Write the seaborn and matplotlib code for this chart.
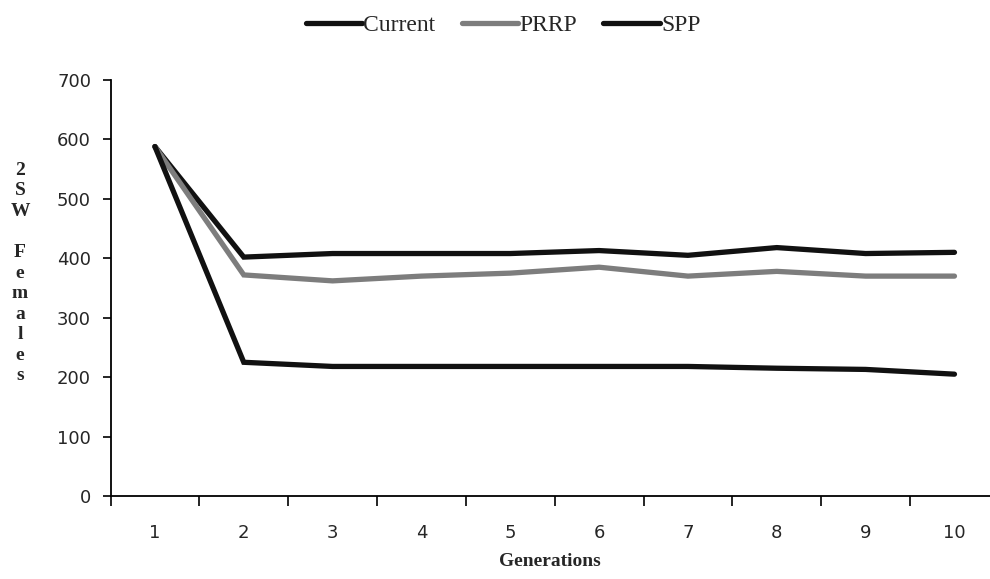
import pandas as pd
import matplotlib
matplotlib.use("Agg")
import matplotlib.pyplot as plt
import seaborn as sns

# valores
generaciones = [1, 2, 3, 4, 5, 6, 7, 8, 9, 10]
current = [588, 402, 408, 408, 408, 413, 405, 418, 408, 410]
prrp = [588, 372, 362, 370, 375, 385, 370, 378, 370, 370]
spp = [588, 225, 218, 218, 218, 218, 218, 215, 213, 205]
series = ["Current", "PRRP", "SPP"]
colores = {"Current": "#111111", "PRRP": "#7d7d7d", "SPP": "#111111"}

df = pd.DataFrame({"gen": generaciones, "Current": current, "PRRP": prrp, "SPP": spp})
df = df.melt(id_vars="gen", var_name="serie", value_name="valor")

sns.set_style("white")
fig = plt.figure(figsize=(9.9, 5.79), dpi=100)
ax = fig.add_axes([110.5 / 990, 1 - 496 / 579, (990 - 110.5) / 990, 416 / 579])

sns.lineplot(data=df, x="gen", y="valor", hue="serie", hue_order=series,
             palette=colores, linewidth=3.8, ax=ax, legend=False,
             solid_capstyle="round", solid_joinstyle="miter")

ax.set_xlim(0.5, 10.4)
ax.set_ylim(0, 700)
ax.set_yticks(range(0, 701, 100))
ax.set_xticks(generaciones)
ax.set_xticks([x + 0.5 for x in range(0, 10)], minor=True)
ax.tick_params(axis="x", which="major", bottom=False, length=0, pad=20, labelsize=13)
ax.tick_params(axis="x", which="minor", bottom=True, length=7, width=1.2, direction="out", color="black")
ax.tick_params(axis="y", left=True, length=6, width=1.2, direction="out", color="black", labelsize=13, pad=8)
ax.set_xlabel("Generations", fontfamily="Liberation Serif", fontweight="bold", fontsize=14, labelpad=8)
ax.set_ylabel("")
for s in ["top", "right"]:
    ax.spines[s].set_visible(False)
for s in ["left", "bottom"]:
    ax.spines[s].set_color("black")
    ax.spines[s].set_linewidth(1.3)

# etiqueta vertical letra por letra
fig.text(20 / 990, 1 - 273 / 579, "\n".join("2SW Females"), ha="center", va="center",
         fontfamily="Liberation Serif", fontweight="bold", fontsize=14, linespacing=1.27)

# leyenda arriba
handles = [plt.Line2D([], [], color=colores[s], linewidth=3.8) for s in series]
fig.legend(handles, series, loc="center", bbox_to_anchor=(503 / 990, 1 - 25 / 579), ncol=3,
           frameon=False, handlelength=2.4, handletextpad=0.05, columnspacing=1.1,
           prop={"family": "Liberation Serif", "size": 17})

fig.savefig("out.png", dpi=100)
